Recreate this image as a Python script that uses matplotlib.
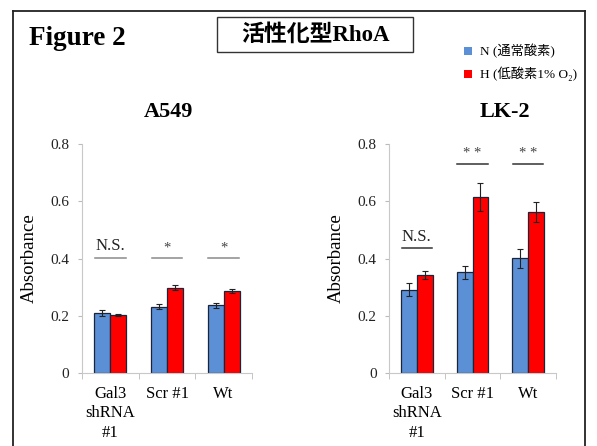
import matplotlib.pyplot as plt
import numpy as np
from matplotlib.patches import Rectangle
from matplotlib.lines import Line2D

groups = ['Gal3\nshRNA\n#1', 'Scr #1', 'Wt']

a549_n = [0.210, 0.232, 0.237]
a549_n_err = [0.010, 0.010, 0.009]
a549_h = [0.203, 0.298, 0.286]
a549_h_err = [0.003, 0.008, 0.008]
a549_sig = ['N.S.', '*', '*']
a549_sig_y = [0.402, 0.402, 0.402]

lk2_n = [0.291, 0.352, 0.401]
lk2_n_err = [0.022, 0.022, 0.033]
lk2_h = [0.343, 0.614, 0.562]
lk2_h_err = [0.014, 0.049, 0.035]
lk2_sig = ['N.S.', '* *', '* *']
lk2_sig_y = [0.435, 0.731, 0.731]

blue = '#5B8FD6'
red = '#FF0000'
serif = ['Liberation Serif', 'Noto Sans CJK JP']

W, H = 597, 446
fig = plt.figure(figsize=(W / 100, H / 100), dpi=100)


def fx(px):
    return px / W


def fy(py):
    return 1 - py / H


# outer frame
for xs, ys in [((13, 13), (11, 446)), ((13, 585), (11, 11)), ((585, 585), (11, 446))]:
    fig.add_artist(Line2D([fx(x) for x in xs], [fy(y) for y in ys], color='#222222', lw=1.3,
                          transform=fig.transFigure))

fig.text(fx(29), fy(45), 'Figure 2', family=serif, fontweight='bold', fontsize=19.5,
         ha='left', va='baseline')

# title box
fig.add_artist(Rectangle((fx(217), fy(52)), fx(413) - fx(217), fy(17) - fy(52),
                         transform=fig.transFigure, fill=False, edgecolor='#333333', lw=1.0))
fig.text(fx(315), fy(35), '活性化型RhoA', family=serif, fontweight='bold', fontsize=16.5,
         ha='center', va='center')

# legend
for y, col, lab in [(51, blue, 'N (通常酸素)'), (74, red, 'H (低酸素1% O₂)')]:
    fig.add_artist(Rectangle((fx(464), fy(y + 4)), 8 / W, 8 / H, transform=fig.transFigure,
                             facecolor=col, edgecolor='none'))
    fig.text(fx(480), fy(y), lab, family=serif, fontsize=9.5, ha='left', va='center')


def panel(rect, title, title_x, n, n_err, h, h_err, sig, sig_y, sig_color):
    ax = fig.add_axes(rect)
    x = np.arange(len(groups))
    w = 0.285
    ek = dict(ecolor='#222222', elinewidth=0.8, capsize=2.2, capthick=0.8)
    ax.bar(x - w / 2, n, w, yerr=n_err, color=blue, edgecolor='#1c2438', lw=0.9, error_kw=ek)
    ax.bar(x + w / 2, h, w, yerr=h_err, color=red, edgecolor='#1c2438', lw=0.9, error_kw=ek)
    ax.set_xlim(-0.5, 2.5)
    ax.set_ylim(0, 0.8)
    ax.set_yticks([0, 0.2, 0.4, 0.6, 0.8])
    ax.set_yticklabels(['0', '0.2', '0.4', '0.6', '0.8'], family=serif, fontsize=11,
                       color='#222222')
    ax.set_xticks(x)
    ax.set_xticklabels(groups, family=serif, fontsize=12, linespacing=1.3, va='top')
    ax.set_xticks([-0.5, 0.5, 1.5, 2.5], minor=True)
    ax.tick_params(axis='x', which='major', length=0, pad=9)
    ax.tick_params(axis='x', which='minor', length=4, color='#bbbbbb', direction='out')
    ax.tick_params(axis='y', length=3, color='#bbbbbb', pad=6)
    for s in ['top', 'right']:
        ax.spines[s].set_visible(False)
    for s in ['left', 'bottom']:
        ax.spines[s].set_color('#c8c8c8')
        ax.spines[s].set_linewidth(0.8)
    ax.set_ylabel('Absorbance', family=serif, fontsize=13.5, labelpad=9)
    for i, (s, yy) in enumerate(zip(sig, sig_y)):
        ax.plot([i - 0.27, i + 0.27], [yy, yy], color=sig_color, lw=1.1, clip_on=False)
        fs = 12 if s == 'N.S.' else 10.5
        ax.text(i, yy + 0.012, s, family=serif, fontsize=fs, ha='center', va='bottom',
                color='#222222' if s == 'N.S.' else '#444444')
    fig.text(fx(title_x), fy(112), title, family=serif, fontweight='bold', fontsize=16,
             ha='center', va='center')
    return ax


bottom = fy(373)
height = fy(144) - fy(373)
panel([fx(82), bottom, fx(252) - fx(82), height], 'A549', 168,
      a549_n, a549_n_err, a549_h, a549_h_err, a549_sig, a549_sig_y, '#8a8a8a')
panel([fx(389), bottom, fx(556) - fx(389), height], 'LK-2', 505,
      lk2_n, lk2_n_err, lk2_h, lk2_h_err, lk2_sig, lk2_sig_y, '#333333')

fig.savefig('out.png', dpi=100)
